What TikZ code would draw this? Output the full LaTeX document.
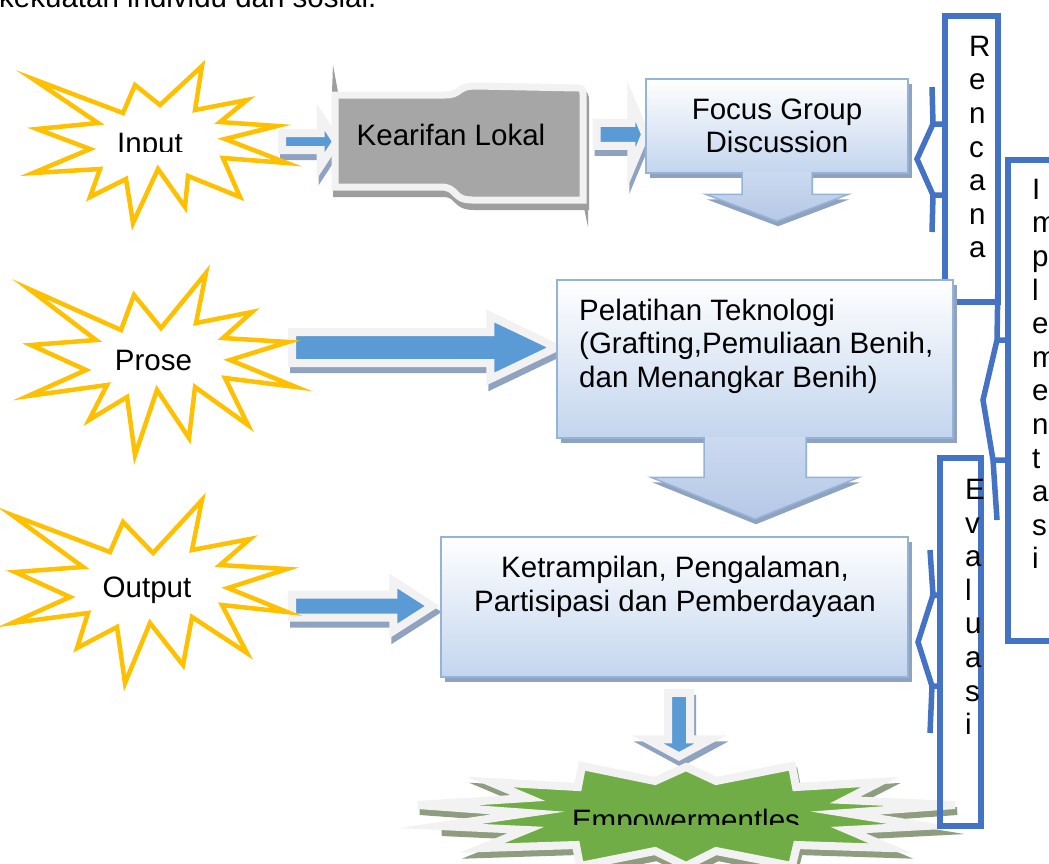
\documentclass[tikz,border=0pt]{standalone}
\usepackage{fontspec}
\setmainfont{Liberation Sans}
\usetikzlibrary{calc,backgrounds}

\definecolor{glowgray}{HTML}{F2F2F2}
\definecolor{arrowblue}{HTML}{5B9BD5}
\definecolor{shadeblue}{HTML}{8FA3C1}
\definecolor{staryellow}{HTML}{FFC000}
\definecolor{boxline}{HTML}{95B3D7}
\definecolor{boxblue}{HTML}{C3D5EE}
\definecolor{droptop}{HTML}{CCDAF0}
\definecolor{dropbottom}{HTML}{B5C8E6}
\definecolor{bracketblue}{HTML}{4472C4}
\definecolor{wisegray}{HTML}{A6A6A6}
\definecolor{wiseshade}{HTML}{9E9E9E}
\definecolor{powergreen}{HTML}{70AD47}
\definecolor{powershade}{HTML}{8E9D80}

\tikzset{
  every node/.style={font=\fontsize{29.5}{33.6}\selectfont, inner sep=0pt},
  glowshape/.style={draw=glowgray, line width=8pt, line join=miter,
    preaction={draw=#1, fill=#1, line width=8pt, line join=miter,
      transform canvas={xshift=2pt, yshift=-6pt}}},
  hglow/.style n args={3}{glowshape=shadeblue, fill=arrowblue,
    to path={let \p1=(\tikztostart), \p2=(\tikztotarget) in
      (\x1,\y1+#1) -- (\x2-#3,\y1+#1) -- (\x2-#3,\y1+#2) -- (\x2,\y1)
      -- (\x2-#3,\y1-#2) -- (\x2-#3,\y1-#1) -- (\x1,\y1-#1) -- cycle}},
  vglow/.style n args={3}{glowshape=shadeblue, fill=arrowblue,
    to path={let \p1=(\tikztostart), \p2=(\tikztotarget) in
      (\x1-#1,\y1) -- (\x1-#1,\y2+#3) -- (\x1-#2,\y2+#3) -- (\x1,\y2)
      -- (\x1+#2,\y2+#3) -- (\x1+#1,\y2+#3) -- (\x1+#1,\y1) -- cycle}},
  vdrop/.style n args={3}{draw=boxline, line width=1.5pt, line join=miter,
    top color=droptop, bottom color=dropbottom,
    preaction={fill=shadeblue, transform canvas={xshift=1pt, yshift=-5pt}},
    to path={let \p1=(\tikztostart), \p2=(\tikztotarget) in
      (\x1-#1,\y1) -- (\x1-#1,\y2+#3) -- (\x1-#2,\y2+#3) -- (\x1,\y2)
      -- (\x1+#2,\y2+#3) -- (\x1+#1,\y2+#3) -- (\x1+#1,\y1)}},
  box/.style={draw=boxline, line width=1.5pt, top color=white, bottom color=boxblue,
    preaction={fill=shadeblue, transform canvas={xshift=4pt, yshift=-5pt}}},
  burst/.style={draw=staryellow, line width=4.5pt, fill=white, line join=miter},
  bluebrace/.style={draw=bracketblue, line width=5.5pt, line join=miter},
  letters/.style={anchor=west, align=left}
}

\begin{document}
\begin{tikzpicture}[x=1pt, y=-1pt]
  \useasboundingbox (0,0) rectangle (1049,863);
  \node[anchor=base west] (caption) at (-1,7) {kekuatan individu dan sosial.};

  \draw[bluebrace] (945,16) rectangle (998,302);
  \draw[bluebrace] (932,87) -- (933,124) -- (917,159) -- (933,195) -- (932,232)
    (933,124) -- (945,124) (933,195) -- (945,195);
  \node[letters] (rencana) at (969,147) {R\\e\\n\\c\\a\\n\\a};
  \draw[bluebrace] (1008,160) rectangle (1070,641);
  \draw[bluebrace] (998,278) -- (997,340) -- (983,400) -- (993,460) -- (997,520)
    (997,340) -- (1008,340) (993,460) -- (1008,460);
  \node[letters] (implementasi) at (1032,374) {I\\m\\p\\l\\e\\m\\e\\n\\t\\a\\s\\i};

  \draw[burst] (33,79) -- (123,113) -- (135,85) -- (160,105) -- (202,66) -- (195,110)
    -- (247,100) -- (220,122) -- (277,126) -- (225,139) -- (287,163) -- (223,158)
    -- (240,197) -- (188,176) -- (185,207) -- (158,169) -- (133,223) -- (126,179)
    -- (90,197) -- (100,169) -- (33,173) -- (90,149) -- (37,129) -- (98,123) -- cycle;
  \coordinate (inputR) at (282,141.5);
  \begin{scope}
    \clip (95,115) rectangle (210,151.5);
    \node[anchor=base] (input) at (150,153) {Input};
  \end{scope}

  \draw[burst] (29,289) -- (121,330) -- (134,295) -- (161,328) -- (206,273) -- (196,323)
    -- (252,312) -- (223,338) -- (288,342) -- (230,360) -- (296,387) -- (225,378)
    -- (248,425) -- (195,387) -- (189,438) -- (157,390) -- (135,455) -- (127,397)
    -- (89,420) -- (107,385) -- (28,396) -- (86,370) -- (31,345) -- (96,340) -- cycle;
  \coordinate (proseR) at (292,347.5);
  \node[anchor=base] (prose) at (153.5,370) {Prose};

  \draw[burst] (12,515) -- (110,552) -- (123,522) -- (153,553) -- (202,500) -- (192,550)
    -- (250,539) -- (220,565) -- (287,569) -- (228,588) -- (287,612) -- (222,605)
    -- (247,653) -- (192,617) -- (183,665) -- (150,623) -- (125,683) -- (117,627)
    -- (77,648) -- (88,613) -- (12,623) -- (70,597) -- (15,572) -- (83,567) -- cycle;
  \coordinate (outputR) at (292,606);
  \node[anchor=base] (output) at (147,597) {Output};

  \fill[wiseshade] (333,65) -- (338,92) -- (332,92) -- cycle;
  \fill[wiseshade] (583,203) -- (588,203) -- (588,227) -- cycle;
  \draw[glowshape=wiseshade, fill=wisegray, line width=7pt]
    (335,95) -- (445,95) .. controls (462,95) and (456,86) .. (476,86)
    -- (578,88) .. controls (582,88) and (583,90) .. (583,94)
    -- (583,200) -- (472,200) .. controls (452,200) and (458,187) .. (441,187)
    -- (335,187) -- cycle;
  \node[anchor=base] (kearifan) at (451,145) {Kearifan Lokal};

  \node[box, minimum width=262pt, minimum height=94pt, align=center] (fgd) at (777,126)
    {Focus Group\\Discussion};
  \node[box, minimum width=396pt, minimum height=158pt] (pel) at (755,359) {};
  \node[anchor=west, align=left] (peltext) at (579,346)
    {Pelatihan Teknologi\\(Grafting,Pemuliaan Benih,\\dan Menangkar Benih)};
  \draw[vdrop={35pt}{71.5pt}{27pt}] ([yshift=2pt]fgd.south) to ([yshift=58pt]pel.north);

  \node[box, minimum width=467pt, minimum height=140pt] (ket) at (674.5,607) {};
  \node[align=center] (kettext) at (675,587)
    {Ketrampilan, Pengalaman,\\Partisipasi dan Pemberdayaan};
  \draw[vdrop={51pt}{104pt}{42pt}] ([yshift=2pt]pel.south) to ([yshift=17pt]ket.north);

  \draw[glowshape=powershade, fill=powergreen, miter limit=12]
    (686,767) -- (716,781) -- (792,766) -- (796,787) -- (880,782) -- (845,800)
    -- (955,805) -- (845,813) -- (925,826) -- (848,830) -- (890,848) -- (797,845)
    -- (792,866) -- (716,851) -- (686,866) -- (655,851) -- (580,866) -- (576,845)
    -- (482,848) -- (526,830) -- (440,826) -- (528,813) -- (418,805) -- (528,798)
    -- (490,782) -- (578,787) -- (582,766) -- (655,781) -- cycle;
  \begin{scope}
    \clip (560,790) rectangle (810,824);
    \node[anchor=base] (power) at (686,830) {Empowermentles};
  \end{scope}

  \draw[bluebrace] (940,458) rectangle (981,826);
  \draw[bluebrace] (930,550) -- (933,595) -- (918,642) -- (932,686) -- (930,733)
    (933,595) -- (940,595) (932,686) -- (940,686);
  \node[letters] (evaluasi) at (965,607) {E\\v\\a\\l\\u\\a\\s\\i};

  \begin{scope}[on background layer]
    \fill[white] (0,0) rectangle (1049,863);
    \draw[hglow={8.5pt}{24.5pt}{16pt}] (inputR) to ([xshift=-20pt]kearifan.west);
    \draw[hglow={11.5pt}{33.5pt}{14pt}] ([xshift=51pt]kearifan.east) to (fgd.west);
    \draw[hglow={15.5pt}{31.5pt}{66pt}] (proseR) to (pel.west);
    \draw[hglow={11.5pt}{25pt}{39pt}] (outputR) to ([xshift=-8pt]ket.west);
    \draw[vglow={11pt}{31.5pt}{17pt}] ([xshift=4.5pt,yshift=-15pt]ket.south)
      to ([yshift=52pt]power.north);
  \end{scope}
\end{tikzpicture}
\end{document}
